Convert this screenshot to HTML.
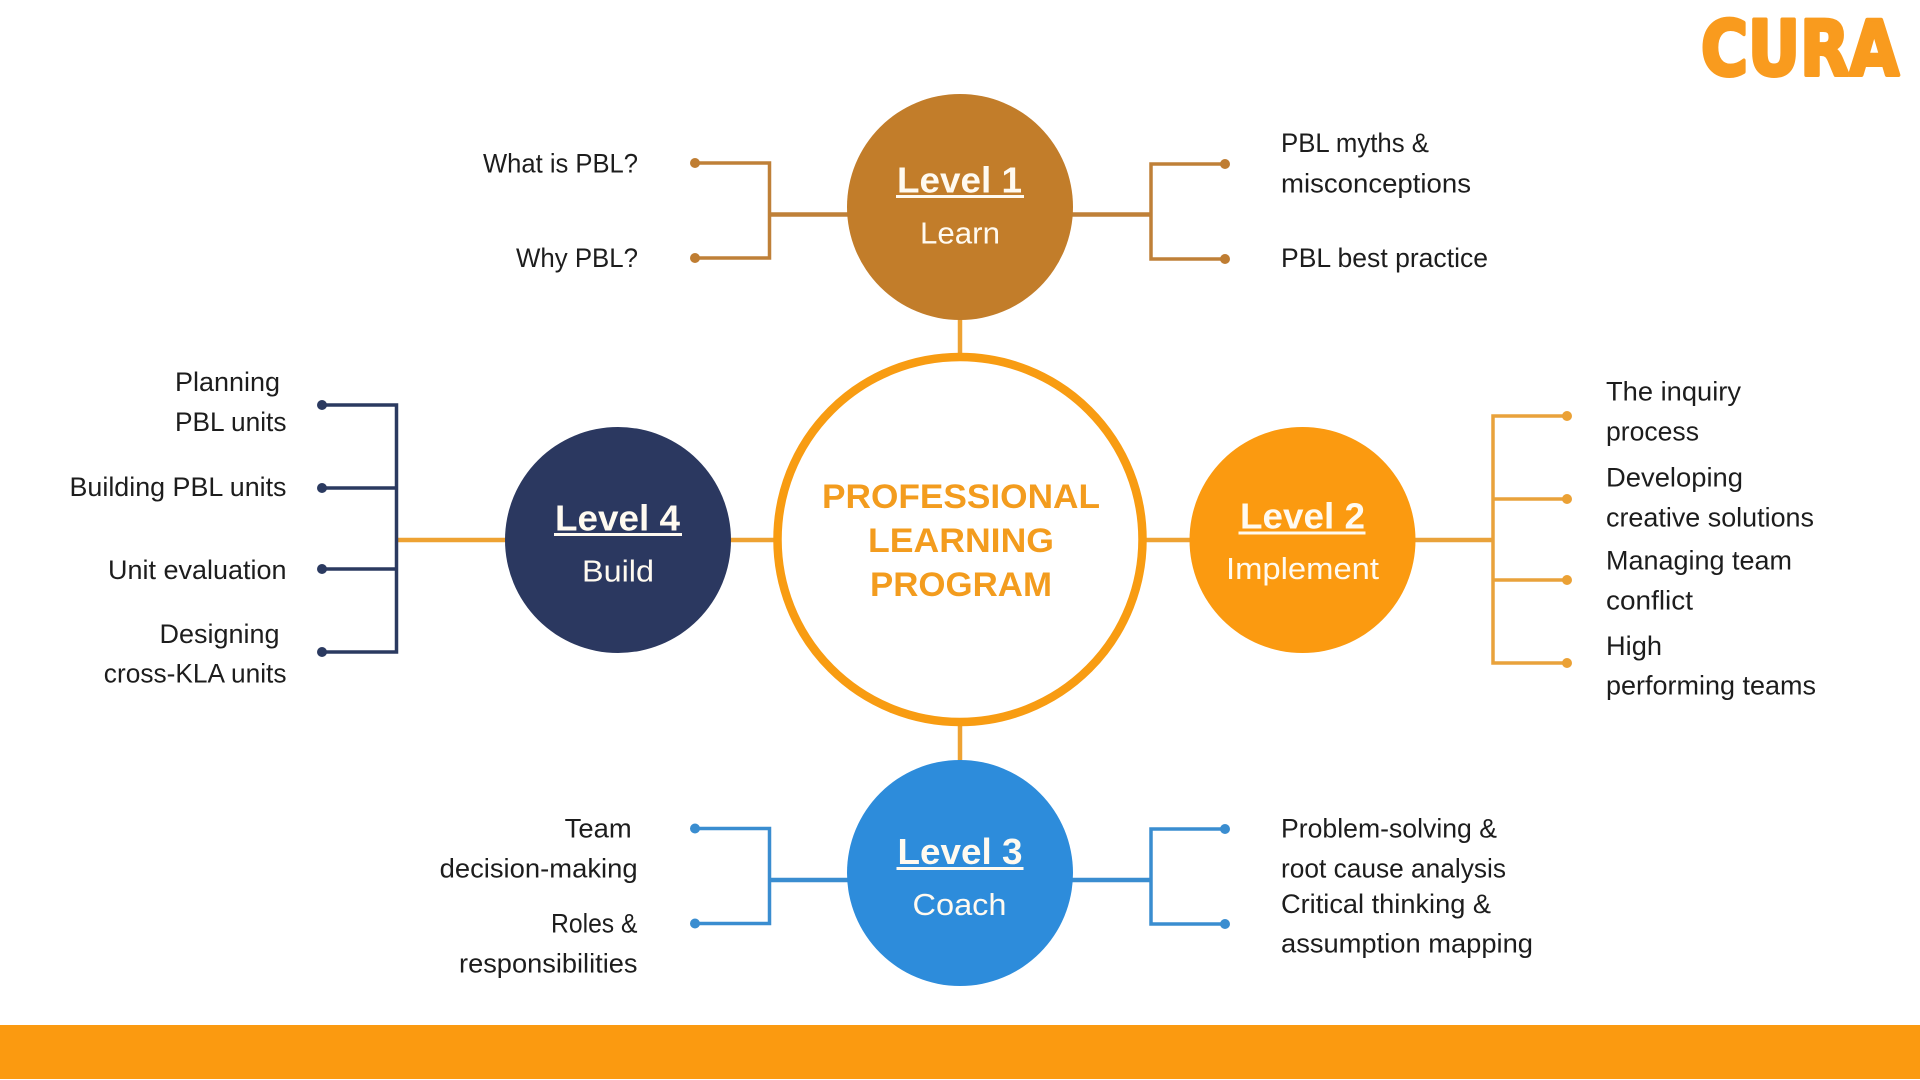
<!DOCTYPE html>
<html lang="en">
<head>
<meta charset="utf-8">
<title>Professional Learning Program</title>
<style>
html,body{margin:0;padding:0;background:#fff;width:1920px;height:1080px;overflow:hidden}
svg{display:block}
text{font-family:"Liberation Sans",Arial,sans-serif}
.t{font-size:26.5px;fill:#1d1d1d}
.h{font-size:36px;font-weight:bold;fill:#fffaf0}
.s{font-size:30.5px;fill:#fffaf0}
.c{font-size:34px;font-weight:bold;fill:#F39C1E}
</style>
</head>
<body>
<svg width="1920" height="1080" viewBox="0 0 1920 1080" xmlns="http://www.w3.org/2000/svg">
<rect width="1920" height="1080" fill="#fff"/>
<rect x="0" y="1025" width="1920" height="54" fill="#FB9A10"/>

<!-- logo -->
<text x="1701" y="75" font-size="76" font-weight="bold" fill="#F99B1E" stroke="#F99B1E" stroke-width="4" stroke-linejoin="round" textLength="198" lengthAdjust="spacingAndGlyphs" style="font-family:'DejaVu Sans','Liberation Sans',sans-serif">CURA</text>

<!-- main orange connectors -->
<g stroke="#EEA233" stroke-width="4.500" fill="none">
<line x1="960" y1="318" x2="960" y2="356"/>
<line x1="960" y1="724" x2="960" y2="762"/>
<line x1="397" y1="540" x2="507" y2="540"/>
<line x1="729" y1="540" x2="775" y2="540"/>
<line x1="1145" y1="540" x2="1191" y2="540"/>
</g>

<!-- level 1 brackets -->
<g stroke="#BF8038" fill="none">
<path d="M695 163H769.500V258H695" stroke-width="3.500"/>
<path d="M1228 164H1151V259H1228" stroke-width="3.500"/>
<path d="M770 214.500H850M1070 214.500H1151" stroke-width="4.500"/>
</g>
<g fill="#BF7D32">
<circle cx="695" cy="163" r="5"/><circle cx="695" cy="258" r="5"/>
<circle cx="1225" cy="164" r="5"/><circle cx="1225" cy="259" r="5"/>
</g>

<!-- level 2 brackets -->
<g stroke="#E9A23B" fill="none">
<path d="M1567 416H1493V663H1567" stroke-width="3.500"/>
<path d="M1493 499H1567M1493 580H1567" stroke-width="3.500"/>
<path d="M1414 540H1493" stroke-width="4.500"/>
</g>
<g fill="#EBA135">
<circle cx="1567" cy="416" r="5"/><circle cx="1567" cy="499" r="5"/>
<circle cx="1567" cy="580" r="5"/><circle cx="1567" cy="663" r="5"/>
</g>

<!-- level 3 brackets -->
<g stroke="#3A8DD0" fill="none">
<path d="M695 828.500H769.500V923.500H695" stroke-width="3.500"/>
<path d="M1228 829H1151V924H1228" stroke-width="3.500"/>
<path d="M770 880H850M1070 880H1151" stroke-width="4.500"/>
</g>
<g fill="#3A8DD0">
<circle cx="695" cy="828.500" r="5"/><circle cx="695" cy="923.500" r="5"/>
<circle cx="1225" cy="829" r="5"/><circle cx="1225" cy="924" r="5"/>
</g>

<!-- level 4 brackets -->
<g stroke="#2B3A60" fill="none" stroke-width="3.500">
<path d="M322 405H396.500V652H322"/>
<path d="M322 488H396.500M322 569H396.500"/>
</g>
<g fill="#2B3A60">
<circle cx="322" cy="405" r="5"/><circle cx="322" cy="488" r="5"/>
<circle cx="322" cy="569" r="5"/><circle cx="322" cy="652" r="5"/>
</g>

<!-- circles -->
<circle cx="960" cy="539.500" r="182.500" fill="#fff" stroke="#F89C12" stroke-width="8.500"/>
<circle cx="960" cy="207" r="113" fill="#C27D2A"/>
<circle cx="1302.500" cy="540" r="113" fill="#FB9A10"/>
<circle cx="960" cy="873" r="113" fill="#2D8CDB"/>
<circle cx="618" cy="540" r="113" fill="#2B3860"/>

<!-- center label -->
<text class="c" x="822" y="508" textLength="278" lengthAdjust="spacingAndGlyphs">PROFESSIONAL</text>
<text class="c" x="868" y="552" textLength="186" lengthAdjust="spacingAndGlyphs">LEARNING</text>
<text class="c" x="870" y="596" textLength="182" lengthAdjust="spacingAndGlyphs">PROGRAM</text>

<!-- level labels -->
<text class="h" x="897" y="192.700" textLength="125" lengthAdjust="spacingAndGlyphs">Level 1</text>
<rect x="896" y="195" width="128" height="3" fill="#fffaf0"/>
<text class="s" x="920" y="243.300" textLength="80" lengthAdjust="spacingAndGlyphs">Learn</text>

<text class="h" x="1240" y="528.300" textLength="125" lengthAdjust="spacingAndGlyphs">Level 2</text>
<rect x="1238.500" y="531.500" width="127" height="3" fill="#fffaf0"/>
<text class="s" x="1226" y="579" textLength="153" lengthAdjust="spacingAndGlyphs">Implement</text>

<text class="h" x="897.500" y="864" textLength="125" lengthAdjust="spacingAndGlyphs">Level 3</text>
<rect x="896.500" y="867" width="127" height="3" fill="#fffaf0"/>
<text class="s" x="912.500" y="915" textLength="94" lengthAdjust="spacingAndGlyphs">Coach</text>

<text class="h" x="555" y="530.700" textLength="125" lengthAdjust="spacingAndGlyphs">Level 4</text>
<rect x="554" y="533" width="128" height="3" fill="#fffaf0"/>
<text class="s" x="582" y="581.300" textLength="72" lengthAdjust="spacingAndGlyphs">Build</text>

<!-- level 1 items -->
<text class="t" x="483" y="172.700" textLength="155" lengthAdjust="spacingAndGlyphs">What is PBL?</text>
<text class="t" x="516" y="267" textLength="122" lengthAdjust="spacingAndGlyphs">Why PBL?</text>
<text class="t" x="1281" y="152" textLength="148" lengthAdjust="spacingAndGlyphs">PBL myths &amp;</text>
<text class="t" x="1281" y="192.700" textLength="190" lengthAdjust="spacingAndGlyphs">misconceptions</text>
<text class="t" x="1281" y="267" textLength="207" lengthAdjust="spacingAndGlyphs">PBL best practice</text>

<!-- level 2 items -->
<text class="t" x="1606" y="400.700" textLength="135" lengthAdjust="spacingAndGlyphs">The inquiry</text>
<text class="t" x="1606" y="440.700" textLength="93" lengthAdjust="spacingAndGlyphs">process</text>
<text class="t" x="1606" y="486.700" textLength="137" lengthAdjust="spacingAndGlyphs">Developing</text>
<text class="t" x="1606" y="526.700" textLength="208" lengthAdjust="spacingAndGlyphs">creative solutions</text>
<text class="t" x="1606" y="569.300" textLength="186" lengthAdjust="spacingAndGlyphs">Managing team</text>
<text class="t" x="1606" y="609.300" textLength="87" lengthAdjust="spacingAndGlyphs">conflict</text>
<text class="t" x="1606" y="655" textLength="56" lengthAdjust="spacingAndGlyphs">High</text>
<text class="t" x="1606" y="694.300" textLength="210" lengthAdjust="spacingAndGlyphs">performing teams</text>

<!-- level 3 items -->
<text class="t" x="564.700" y="837.700" textLength="67" lengthAdjust="spacingAndGlyphs">Team</text>
<text class="t" x="439.600" y="877.700" textLength="198" lengthAdjust="spacingAndGlyphs">decision-making</text>
<text class="t" x="551" y="932.300" textLength="86.500" lengthAdjust="spacingAndGlyphs">Roles &amp;</text>
<text class="t" x="459" y="972.300" textLength="178.500" lengthAdjust="spacingAndGlyphs">responsibilities</text>
<text class="t" x="1281" y="837.700" textLength="216" lengthAdjust="spacingAndGlyphs">Problem-solving &amp;</text>
<text class="t" x="1281" y="877.700" textLength="225" lengthAdjust="spacingAndGlyphs">root cause analysis</text>
<text class="t" x="1281" y="913" textLength="210" lengthAdjust="spacingAndGlyphs">Critical thinking &amp;</text>
<text class="t" x="1281" y="952.300" textLength="252" lengthAdjust="spacingAndGlyphs">assumption mapping</text>

<!-- level 4 items -->
<text class="t" x="175" y="391" textLength="105" lengthAdjust="spacingAndGlyphs">Planning</text>
<text class="t" x="175" y="431" textLength="111.500" lengthAdjust="spacingAndGlyphs">PBL units</text>
<text class="t" x="69.500" y="496" textLength="217" lengthAdjust="spacingAndGlyphs">Building PBL units</text>
<text class="t" x="108" y="579" textLength="178.500" lengthAdjust="spacingAndGlyphs">Unit evaluation</text>
<text class="t" x="159.500" y="643" textLength="120" lengthAdjust="spacingAndGlyphs">Designing</text>
<text class="t" x="103.800" y="682.700" textLength="182.700" lengthAdjust="spacingAndGlyphs">cross-KLA units</text>
</svg>
</body>
</html>
